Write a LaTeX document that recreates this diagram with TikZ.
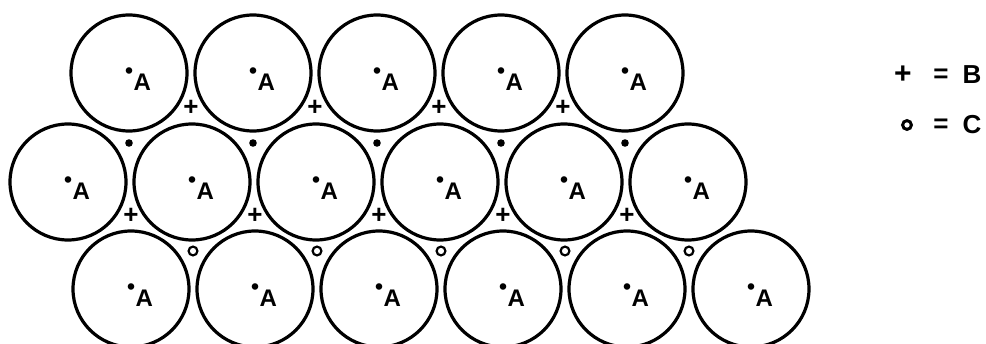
\documentclass[tikz,border=0pt]{standalone}
\usepackage{fontspec}
\setsansfont{Liberation Sans}

\newcommand{\dotA}{\raisebox{0.95ex}{\scalebox{0.95}{\textbullet}}\kern0.2pt A}

\begin{document}
\begin{tikzpicture}[x=0.5pt,y=0.5pt,
  atom/.style={circle,draw,line width=1.6pt,minimum size=58pt,inner sep=0pt},
  lbl/.style={font=\sffamily\bfseries\fontsize{12}{12}\selectfont,inner sep=0pt},
  bsite/.style={font=\sffamily\bfseries\fontsize{13}{13}\selectfont,inner sep=0pt},
  csite/.style={circle,fill,minimum size=3.8pt,inner sep=0pt},
  copen/.style={circle,draw,line width=1.1pt,minimum size=4.4pt,inner sep=0pt},
  key/.style={font=\sffamily\bfseries\fontsize{13}{13}\selectfont,inner sep=0pt}]
\useasboundingbox (0,0) rectangle (986,343);
% top row
\foreach \i in {1,...,5} {
   \node[atom] (top\i) at (5+124*\i,270) {};
   \node[lbl] (topA\i) at (14+124*\i,264) {\dotA};
}
% middle row
\foreach \i in {1,...,6} {
   \node[atom] (mid\i) at (-56+124*\i,161) {};
   \node[lbl] (midA\i) at (-47+124*\i,155) {\dotA};
}
% bottom row
\foreach \i in {1,...,6} {
   \node[atom] (bot\i) at (7+124*\i,54) {};
   \node[lbl] (botA\i) at (16+124*\i,48) {\dotA};
}
% holes
\foreach \i in {1,...,4} {
   \node[bsite] (bt\i) at (67+124*\i,235) {+};
}
\foreach \i in {1,...,5} {
   \node[csite] (ct\i) at (5+124*\i,200) {};
   \node[bsite] (bb\i) at (7+124*\i,127) {+};
   \node[copen] (cb\i) at (69+124*\i,92) {};
}
% key
\node[bsite,font=\sffamily\bfseries\fontsize{15}{15}\selectfont] (keyB) at (903,268) {+};
\node[key] (eqB) at (941,267) {=};
\node[key] (labB) at (972,268) {B};
\node[copen,line width=1.5pt] (keyC) at (907,218) {};
\node[key] (eqC) at (941,217) {=};
\node[key] (labC) at (972,218) {C};
\end{tikzpicture}
\end{document}
